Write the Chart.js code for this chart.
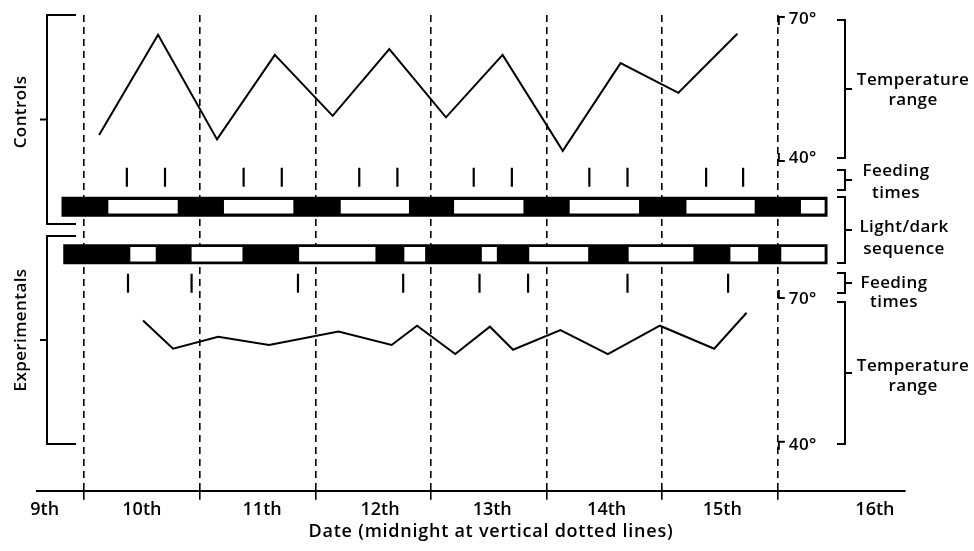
<!DOCTYPE html>
<html>
<head>
<meta charset="utf-8">
<script src="https://cdn.jsdelivr.net/npm/chart.js@4.4.0/dist/chart.umd.min.js"></script>
<style>
  html, body { margin: 0; padding: 0; background: #fff; }
</style>
</head>
<body>
<canvas id="chart" width="974" height="551"></canvas>
<script>
// x unit = day of the month, whole numbers are midnight (10 = midnight starting the 10th)
const midnights = [10, 11, 12, 13, 14, 15, 16];
const dayLabels = ['9th', '10th', '11th', '12th', '13th', '14th', '15th', '16th'];
const dayLabelPos = [9.66, 10.5, 11.54, 12.56, 13.53, 14.52, 15.52, 16.84];
const xTitle = 'Date (midnight at vertical dotted lines)';

// temperature range, controls (deg F)
const controlTempX = [10.13, 10.64, 11.15, 11.65, 12.15, 12.64, 13.13, 13.62, 14.14, 14.64, 15.14, 15.65];
const controlTempF = [45.4, 66.3, 44.5, 62.1, 49.4, 63.3, 49.1, 62.1, 42.1, 60.4, 54.2, 66.5];

// temperature range, experimentals (deg F)
const expTempX = [10.51, 10.77, 11.16, 11.6, 12.2, 12.66, 12.88, 13.21, 13.51, 13.71, 14.12, 14.53, 14.98, 15.45, 15.73];
const expTempF = [65.3, 59.4, 61.9, 60.2, 63.0, 60.2, 64.2, 58.3, 64.0, 59.2, 63.3, 58.3, 64.2, 59.4, 66.9];

// feeding times
const controlFeeds = [10.37, 10.70, 11.38, 11.71, 12.38, 12.71, 13.37, 13.70, 14.37, 14.70, 15.38, 15.70];
const expFeeds = [10.38, 10.93, 11.85, 12.76, 13.42, 13.84, 14.70, 15.57];

// light/dark sequence: whole record span, and the light periods inside it
const controlRecord = [9.805, 16.43];
const controlLight = [[10.21, 10.81], [11.21, 11.81], [12.22, 12.81], [13.20, 13.80], [14.20, 14.80], [15.21, 15.80], [16.20, 16.405]];
const expRecord = [9.82, 16.43];
const expLight = [[10.40, 10.62], [10.93, 11.37], [11.86, 12.52], [12.77, 12.95], [13.44, 13.57], [13.85, 14.36], [14.71, 15.27], [15.59, 15.83], [16.03, 16.405]];

// rows on the band axis (percent of plot height, from top)
const ROW = { ctrlFeed: 34.1, ctrlBar: 40.3, expBar: 50.3, expFeed: 56.4 };

const FONT = 'Open Sans';
Chart.defaults.font.family = FONT;
Chart.defaults.color = '#000';

function pts(xs, ys) { return xs.map((v, i) => ({ x: v, y: ys[i] })); }
function row(xs, r) { return xs.map(v => ({ x: v, y: r })); }
function segments(pairs, r) {
    const d = [];
    pairs.forEach(([a, b]) => { d.push({ x: a, y: r }, { x: b, y: r }, { x: b, y: null }); });
    return d;
}

const barStyle = (w, color, order) => ({
    type: 'line', yAxisID: 'yR', borderColor: color, borderWidth: w,
    borderCapStyle: 'butt', pointRadius: 0, tension: 0, spanGaps: false, order
});
const tickStyle = {
    type: 'line', yAxisID: 'yR', showLine: false, pointStyle: 'line', pointRotation: 90,
    pointRadius: 9.5, pointBorderWidth: 2.2, pointBorderColor: '#000', order: 1
};

// brackets, labels and degree marks around the plot
const annotations = {
    id: 'annotations',
    afterDraw(chart) {
        const { ctx, scales } = chart;
        const xs = scales.x, yC = scales.yC, yE = scales.yE;
        const path = (p) => {
            ctx.beginPath();
            ctx.moveTo(p[0][0], p[0][1]);
            for (let i = 1; i < p.length; i++) ctx.lineTo(p[i][0], p[i][1]);
            ctx.stroke();
        };
        ctx.save();
        ctx.strokeStyle = '#000';
        ctx.fillStyle = '#000';
        ctx.lineWidth = 2;

        // left group brackets
        const leftBracket = (top, bot) => {
            path([[76, top], [47, top], [47, bot], [76, bot]]);
            path([[40, (top + bot) / 2], [47, (top + bot) / 2]]);
        };
        leftBracket(15, 224);
        leftBracket(236, 444);

        ctx.font = '600 17px "' + FONT + '"';
        ctx.letterSpacing = '0.4px';
        ctx.textAlign = 'center';
        ctx.textBaseline = 'middle';
        const vtext = (t, cx, cy) => {
            ctx.save(); ctx.translate(cx, cy); ctx.rotate(-Math.PI / 2);
            ctx.fillText(t, 0, 0); ctx.restore();
        };
        vtext('Controls', 21, 112);
        vtext('Experimentals', 21, 330);

        // degree marks on the last midnight line
        const ax = xs.getPixelForValue(16) + 1;
        const mark = (y, down) => {
            const d = down ? 8 : -8;
            path([[ax + 6, y], [ax, y], [ax, y + d]]);
        };
        ctx.textAlign = 'left';
        const c70 = yC.getPixelForValue(70), c40 = yC.getPixelForValue(40);
        const e70 = yE.getPixelForValue(70), e40 = yE.getPixelForValue(40);
        mark(c70, true); mark(c40, false); mark(e70, false); mark(e40, true);
        ctx.fillText('70°', ax + 10, c70 + 2);
        ctx.fillText('40°', ax + 10, c40 - 3);
        ctx.fillText('70°', ax + 10, e70 + 1);
        ctx.fillText('40°', ax + 10, e40 + 3);

        // right-hand brackets with labels
        const bx = 845;
        const rightBracket = (top, bot, lines, cx, ys) => {
            path([[bx - 8, top], [bx, top], [bx, bot], [bx - 8, bot]]);
            path([[bx, (top + bot) / 2], [bx + 7, (top + bot) / 2]]);
            ctx.textAlign = 'center';
            lines.forEach((t, i) => ctx.fillText(t, cx, ys[i]));
        };
        rightBracket(20, 158, ['Temperature', 'range'], 913, [80, 100]);
        rightBracket(170, 190, ['Feeding', 'times'], 896, [171, 193]);
        rightBracket(197, 263, ['Light/dark', 'sequence'], 904, [227, 249]);
        rightBracket(273, 293, ['Feeding', 'times'], 894, [283, 302]);
        rightBracket(302, 444, ['Temperature', 'range'], 913, [366, 386]);

        // axis title
        ctx.font = '600 18px "' + FONT + '"';
        ctx.letterSpacing = '0.75px';
        ctx.textAlign = 'center';
        ctx.textBaseline = 'alphabetic';
        ctx.fillText(xTitle, 491, 537);

        ctx.restore();
    }
};

const ticksAll = midnights.concat(dayLabelPos).sort((a, b) => a - b);
const isMidnight = v => midnights.some(m => Math.abs(m - v) < 1e-6);

new Chart(document.getElementById('chart'), {
    type: 'line',
    data: {
        datasets: [
            Object.assign(barStyle(20, '#000', 4), { data: segments([controlRecord], ROW.ctrlBar) }),
            Object.assign(barStyle(20, '#000', 4), { data: segments([expRecord], ROW.expBar) }),
            Object.assign(barStyle(13.5, '#fff', 3), { data: segments(controlLight, ROW.ctrlBar) }),
            Object.assign(barStyle(14.5, '#fff', 3), { data: segments(expLight, ROW.expBar) }),
            Object.assign({}, tickStyle, { data: row(controlFeeds, ROW.ctrlFeed) }),
            Object.assign({}, tickStyle, { data: row(expFeeds, ROW.expFeed) }),
            { type: 'line', yAxisID: 'yC', data: pts(controlTempX, controlTempF), borderColor: '#000', borderWidth: 2, pointRadius: 0, tension: 0, order: 1 },
            { type: 'line', yAxisID: 'yE', data: pts(expTempX, expTempF), borderColor: '#000', borderWidth: 2, pointRadius: 0, tension: 0, order: 1 }
        ]
    },
    options: {
        responsive: false,
        animation: false,
        devicePixelRatio: 1,
        layout: { padding: { left: 37, right: 69, top: 15, bottom: 31 } },
        plugins: { legend: { display: false }, tooltip: { enabled: false } },
        scales: {
            x: {
                type: 'linear', min: 9.593, max: 17.1,
                afterBuildTicks: axis => { axis.ticks = ticksAll.map(v => ({ value: v })); },
                ticks: {
                    autoSkip: false, maxRotation: 0, padding: 0,
                    font: { size: 18, weight: '600', lineHeight: 1.12 },
                    callback: v => {
                        const i = dayLabelPos.findIndex(p => Math.abs(p - v) < 1e-6);
                        return i >= 0 ? dayLabels[i] : '';
                    }
                },
                grid: {
                    color: c => (c.tick && isMidnight(c.tick.value)) ? '#000' : 'rgba(0,0,0,0)',
                    tickColor: c => (c.tick && isMidnight(c.tick.value)) ? '#000' : 'rgba(0,0,0,0)',
                    lineWidth: 1.6, tickLength: 9, tickWidth: 1.6
                },
                border: { display: true, color: '#000', width: 2, dash: [7, 5] }
            },
            yC: { type: 'linear', display: false, min: -28.75, max: 70.42 },
            yE: { type: 'linear', display: false, min: 29.79, max: 128.96 },
            yR: { type: 'linear', display: false, min: 0, max: 100, reverse: true }
        }
    },
    plugins: [annotations]
});
</script>
</body>
</html>
